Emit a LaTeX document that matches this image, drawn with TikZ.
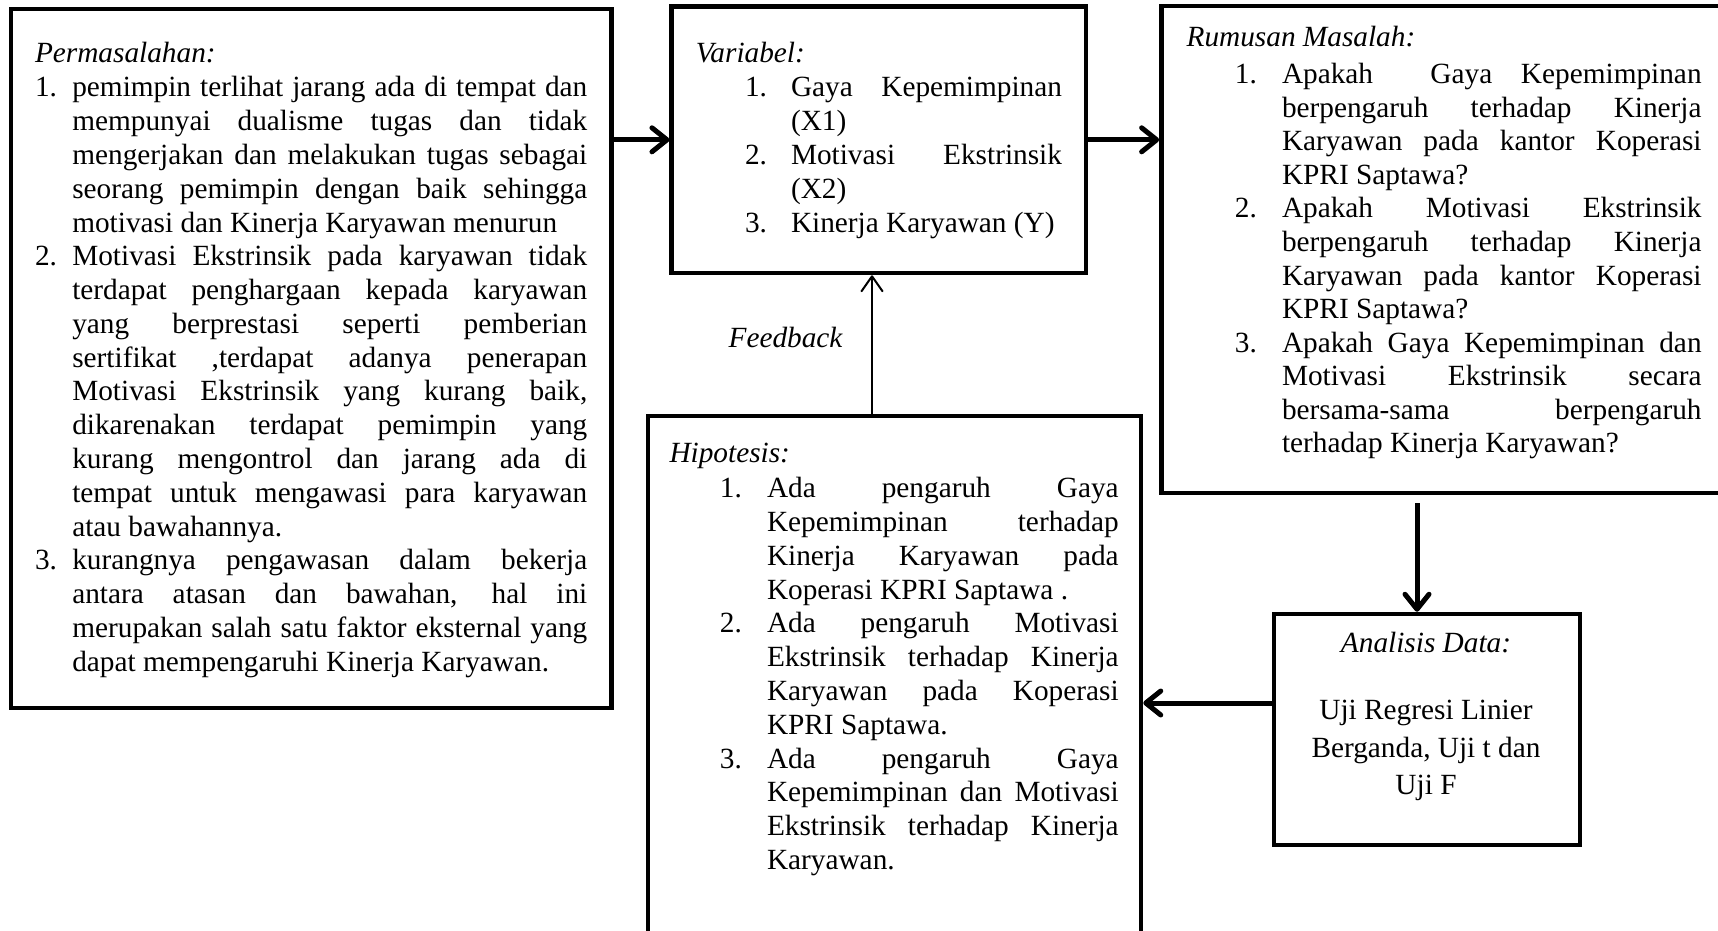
\documentclass[tikz,border=0pt]{standalone}
\usepackage{fontspec}
\setmainfont{Liberation Serif}
\usetikzlibrary{arrows.meta}
\newcommand\fsA{\fontsize{29.3pt}{33.77pt}\selectfont}
\newcommand\fsB{\fontsize{29.3pt}{33.57pt}\selectfont}
\newcommand\para[2]{\parbox[t]{#1}{\def\J##1{\makebox[#1][s]{##1}\\}#2}}
\tikzset{
  box/.style={draw, line width=4.5pt, rectangle, inner sep=0pt},
  txt/.style={anchor=base west, inner sep=0pt, outer sep=0pt, font=\fsA},
  txtb/.style={txt, font=\fsB},
  ctxt/.style={anchor=base, inner sep=0pt, outer sep=0pt, font=\fsA},
  arr/.style={line width=5pt, -{Straight Barb[length=15pt,width=24pt,round]}},
  thinarr/.style={line width=2pt, -{Straight Barb[length=15pt,width=21pt,round]}},
}
\begin{document}
\begin{tikzpicture}[x=1pt,y=-1pt]
\useasboundingbox (0,0) rectangle (1718,931);
\clip (0,0) rectangle (1718,931);
\fill[white] (0,0) rectangle (1718,931);

% boxes
\node[box, minimum width=600.4pt, minimum height=699.2pt] (b1) at (311.2,358.4) {};
\node[box, minimum width=414.1pt, minimum height=266.4pt] (b2) at (878.75,139.8) {};
\node[box, minimum width=578.6pt, minimum height=487pt] (b3) at (1450.7,249.5) {};
\node[box, minimum width=493pt, minimum height=544pt] (b4) at (894.5,688) {};
\node[box, minimum width=306pt, minimum height=231pt] (b5) at (1427,729.5) {};

% box 1: Permasalahan
\node[txt] (p-h) at (35,63) {\textit{Permasalahan:}};
\node[txt] (p-n1) at (35,97) {1.};
\node[txt] (p-i1) at (72.3,97) {\para{515pt}{%
\J{pemimpin terlihat jarang ada di tempat dan}%
\J{mempunyai dualisme tugas dan tidak}%
\J{mengerjakan dan melakukan tugas sebagai}%
\J{seorang pemimpin dengan baik sehingga}%
motivasi dan Kinerja Karyawan menurun}};
\node[txt] (p-n2) at (35,265.85) {2.};
\node[txt] (p-i2) at (72.3,265.85) {\para{515pt}{%
\J{Motivasi Ekstrinsik pada karyawan tidak}%
\J{terdapat penghargaan kepada karyawan}%
\J{yang berprestasi seperti pemberian}%
\J{sertifikat ,terdapat adanya penerapan}%
\J{Motivasi Ekstrinsik yang kurang baik,}%
\J{dikarenakan terdapat pemimpin yang}%
\J{kurang mengontrol dan jarang ada di}%
\J{tempat untuk mengawasi para karyawan}%
atau bawahannya.}};
\node[txt] (p-n3) at (35,569.8) {3.};
\node[txt] (p-i3) at (72.3,569.8) {\para{515pt}{%
\J{kurangnya pengawasan dalam bekerja}%
\J{antara atasan dan bawahan, hal ini}%
\J{merupakan salah satu faktor eksternal yang}%
dapat mempengaruhi Kinerja Karyawan.}};

% box 2: Variabel
\node[txt] (v-h) at (695.8,63) {\textit{Variabel:}};
\node[txt] (v-n1) at (745,97) {1.};
\node[txt] (v-i1) at (791,97) {\para{271pt}{\J{Gaya Kepemimpinan}(X1)}};
\node[txt] (v-n2) at (745,164.5) {2.};
\node[txt] (v-i2) at (791,164.5) {\para{271pt}{\J{Motivasi Ekstrinsik}(X2)}};
\node[txt] (v-n3) at (745,232) {3.};
\node[txt] (v-i3) at (791,232) {Kinerja Karyawan (Y)};

% box 3: Rumusan Masalah
\node[txtb] (r-h) at (1186.6,46.5) {\textit{Rumusan Masalah:}};
\node[txtb] (r-n1) at (1234.9,83.6) {1.};
\node[txtb] (r-i1) at (1282,83.6) {\para{419.6pt}{%
\J{Apakah\ \ Gaya Kepemimpinan}%
\J{berpengaruh terhadap Kinerja}%
\J{Karyawan pada kantor Koperasi}%
KPRI Saptawa?}};
\node[txtb] (r-n2) at (1234.9,217.9) {2.};
\node[txtb] (r-i2) at (1282,217.9) {\para{419.6pt}{%
\J{Apakah Motivasi Ekstrinsik}%
\J{berpengaruh terhadap Kinerja}%
\J{Karyawan pada kantor Koperasi}%
KPRI Saptawa?}};
\node[txtb] (r-n3) at (1234.9,352.2) {3.};
\node[txtb] (r-i3) at (1282,352.2) {\para{419.6pt}{%
\J{Apakah Gaya Kepemimpinan dan}%
\J{Motivasi Ekstrinsik secara}%
\J{bersama-sama berpengaruh}%
terhadap Kinerja Karyawan?}};

% box 4: Hipotesis
\node[txt] (h-h) at (669.5,462.7) {\textit{Hipotesis:}};
\node[txt] (h-n1) at (719.9,497.8) {1.};
\node[txt] (h-i1) at (767,497.8) {\para{351.7pt}{%
\J{Ada pengaruh Gaya}%
\J{Kepemimpinan terhadap}%
\J{Kinerja Karyawan pada}%
Koperasi KPRI Saptawa .}};
\node[txt] (h-n2) at (719.9,632.9) {2.};
\node[txt] (h-i2) at (767,632.9) {\para{351.7pt}{%
\J{Ada pengaruh Motivasi}%
\J{Ekstrinsik terhadap Kinerja}%
\J{Karyawan pada Koperasi}%
KPRI Saptawa.}};
\node[txt] (h-n3) at (719.9,768) {3.};
\node[txt] (h-i3) at (767,768) {\para{351.7pt}{%
\J{Ada pengaruh Gaya}%
\J{Kepemimpinan dan Motivasi}%
\J{Ekstrinsik terhadap Kinerja}%
Karyawan.}};

% box 5: Analisis Data
\node[ctxt] (a-h) at (1426,652) {\textit{Analisis Data:}};
\node[ctxt] (a-1) at (1426,719) {Uji Regresi Linier};
\node[ctxt] (a-2) at (1426,757.5) {Berganda, Uji t dan};
\node[ctxt] (a-3) at (1426,794.7) {Uji F};

% feedback label
\node[txt] (fb-l) at (728.6,347.7) {\textit{Feedback}};

% helper coordinates
\coordinate (fbx) at (872,0);
\coordinate (c35) at (1417,503);
\coordinate (c54) at (0,703);

% connectors
\draw[arr] (b1.east |- b2.west) -- (b2.west);
\draw[arr] (b2.east) -- (b2.east -| b3.west);
\draw[thinarr] (b4.north -| fbx) -- (b2.south -| fbx);
\draw[arr] (c35) -- (c35 |- b5.north);
\draw[arr] (b5.west |- c54) -- (b4.east |- c54);
\end{tikzpicture}
\end{document}
